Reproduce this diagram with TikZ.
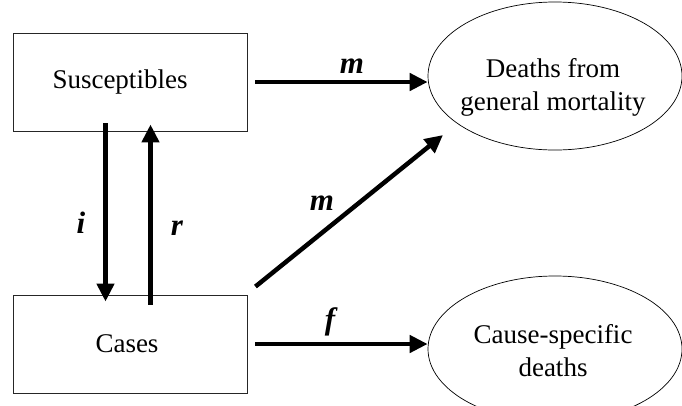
\documentclass[tikz,border=0pt]{standalone}
\usepackage{fontspec}
\setmainfont{Liberation Serif}
\usetikzlibrary{arrows.meta,shapes.geometric}
\begin{document}
\begin{tikzpicture}[x=1pt,y=-1pt,
  box/.style={draw=black!85,line width=0.9pt,minimum width=234pt,minimum height=98pt,inner sep=0pt,font=\fontsize{27}{32}\selectfont},
  oval/.style={ellipse,draw=black,line width=0.7pt,minimum width=254pt,minimum height=148pt,inner sep=0pt},
  ovaltext/.style={align=center,inner sep=0pt,font=\fontsize{27}{33}\selectfont},
  flow/.style={line width=4.5pt,-{Triangle[length=18pt,width=17pt]}},
  lab/.style={inner sep=0pt,font=\fontsize{31}{31}\selectfont\bfseries\itshape}]
\useasboundingbox (0,0) rectangle (682,405);
\node[box] (S) at (130,82) {\hspace*{-20pt}Susceptibles};
\node[box] (C) at (130,344) {\hspace*{-6pt}Cases};
\node[oval] (D) at (555,76) {};
\node[ovaltext] (Dt) at (553,87) {Deaths from\\general mortality};
\node[oval,minimum height=146pt] (K) at (555,349) {};
\node[ovaltext] (Kt) at (553,351) {Cause-specific\\deaths};
\coordinate (dtip) at (443,135);
\draw[flow] ([xshift=8pt]S.east) -- (S.east -| D.west);
\draw[flow] ([xshift=8pt]C.east) -- (C.east -| K.west);
\draw[flow] ([shift={(8,-8)}]C.north east) -- (dtip);
\draw[flow] ([xshift=-24.5pt,yshift=8pt]S.south) -- ([xshift=-24.5pt,yshift=-7pt]C.north);
\draw[flow] ([xshift=20.5pt,yshift=-10pt]C.north) -- ([xshift=20.5pt,yshift=7pt]S.south);
\node[lab] (li) at (81,223) {i};
\node[lab] (lr) at (177,228) {r};
\node[lab] (lm1) at (352,66) {m};
\node[lab] (lm2) at (322,203) {m};
\node[lab] (lf) at (330,322) {f};
\end{tikzpicture}
\end{document}
